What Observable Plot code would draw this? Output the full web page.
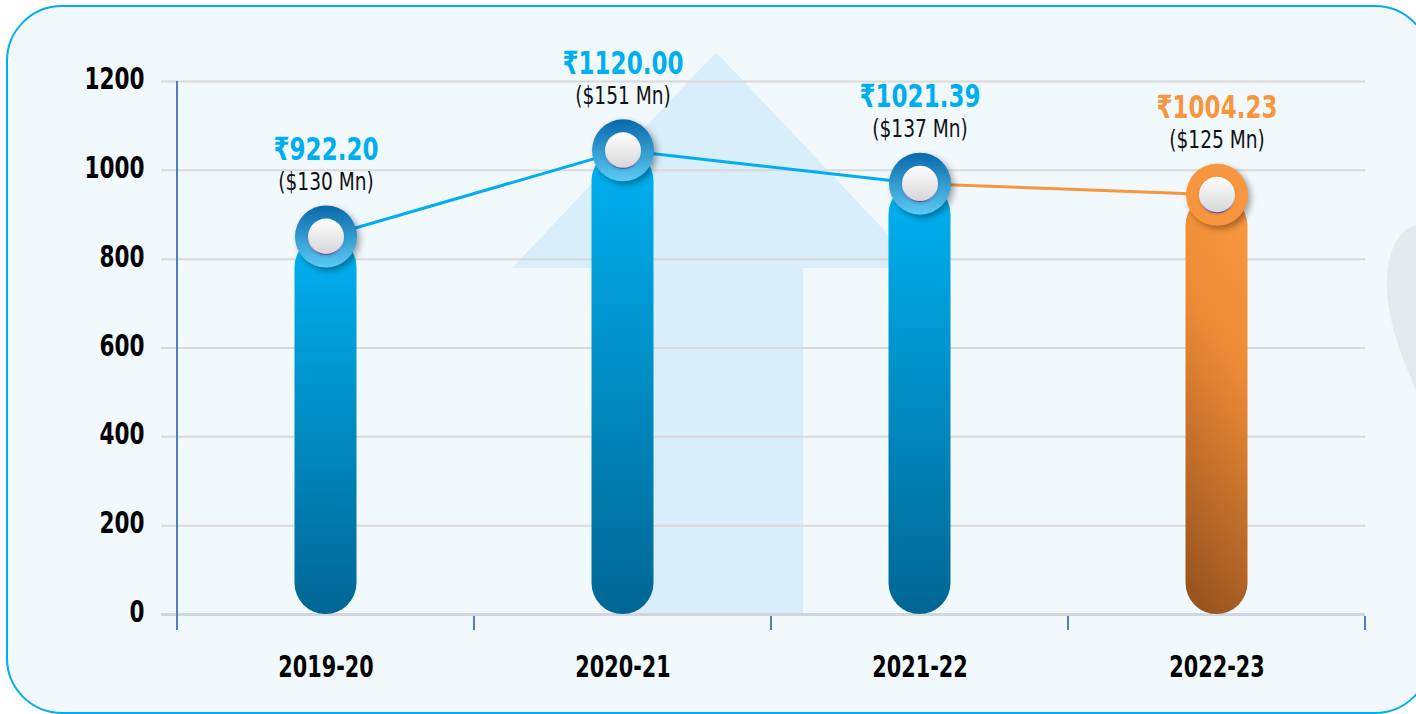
<!DOCTYPE html>
<html>
<head>
<meta charset="utf-8">
<script src="https://cdn.jsdelivr.net/npm/d3@7"></script>
<script src="https://cdn.jsdelivr.net/npm/@observablehq/plot@0.6"></script>
<style>
  html, body { margin: 0; padding: 0; background: #ffffff; }
  #chart svg { display: block; }
</style>
</head>
<body>
<div id="chart"></div>
<script>
// ---- data ----
const years = ["2019-20", "2020-21", "2021-22", "2022-23"];
const plotted = [851, 1045, 970, 945];            // bar/marker heights as drawn in the picture
const inrLabels = ["₹922.20", "₹1120.00", "₹1021.39", "₹1004.23"];
const usdLabels = ["($130 Mn)", "($151 Mn)", "($137 Mn)", "($125 Mn)"];
const highlight = [false, false, false, true];
const yTicks = [0, 200, 400, 600, 800, 1000, 1200];

const rows = years.map((year, i) => ({year, v: plotted[i], inr: inrLabels[i], usd: usdLabels[i], hl: highlight[i]}));
const blueRows = rows.filter(d => !d.hl);
const orangeRows = rows.filter(d => d.hl);

const BLUE = "#00aeef", ORANGE = "#f7963e";
const FONT = '"DejaVu Sans", sans-serif';

// background decoration: rounded panel, faint up-arrow, grey blob
function background(index, scales, values, dim) {
  const g = d3.create("svg:g");
  g.append("rect").attr("x", 7).attr("y", 6).attr("width", dim.width + 7).attr("height", dim.height - 7)
    .attr("rx", 55).attr("fill", "#f2f9fd").attr("stroke", BLUE).attr("stroke-width", 2);
  g.append("path").attr("d", `M${dim.width},225 C${dim.width-20},230 ${dim.width-31},258 ${dim.width-29},292 C${dim.width-26},330 ${dim.width-12},362 ${dim.width},390 Z`)
    .attr("fill", "#e4ebef");
  const x = scales.x, y = scales.y;
  const bw = x(years[1]) - x(years[0]);
  const cx = x(years[1]) + bw * 0.815;
  const apex = y(1265), base = y(779), bottom = y(0);
  const hw = bw * 0.687, sw = bw * 0.293;
  g.append("path")
    .attr("d", `M${cx},${apex} L${cx + hw},${base} L${cx + sw},${base} L${cx + sw},${bottom} L${cx - sw},${bottom} L${cx - sw},${base} L${cx - hw},${base} Z`)
    .attr("fill", "#d8eefa");
  return g.node();
}

// axis lines: vertical y-axis and x ticks at band boundaries
function axes(index, scales, values, dim) {
  const g = d3.create("svg:g");
  const x = scales.x, y = scales.y;
  const bw = x(years[1]) - x(years[0]);
  const x0 = x(years[0]);
  g.append("line").attr("x1", x0).attr("x2", x0).attr("y1", y(1200)).attr("y2", y(0) + 16)
    .attr("stroke", "#4f7fbf").attr("stroke-width", 2);
  for (let i = 1; i <= years.length; i++) {
    const xb = x0 + i * bw;
    g.append("line").attr("x1", xb).attr("x2", xb).attr("y1", y(0) + 2).attr("y2", y(0) + 16)
      .attr("stroke", "#4f7fbf").attr("stroke-width", 2);
  }
  return g.node();
}

const chart = Plot.plot({
  width: 1416,
  height: 714,
  marginLeft: 161,
  marginRight: 51,
  marginTop: 81,
  marginBottom: 100,
  style: {background: "transparent", fontFamily: FONT, overflow: "visible"},
  x: {type: "band", domain: years, padding: 0, insetLeft: 16, axis: null},
  y: {domain: [0, 1200], axis: null},
  marks: [
    background,
    Plot.ruleY(yTicks.filter(d => d > 0), {y: d => d, stroke: "#d9d9d9", strokeWidth: 2}),
    Plot.ruleY([0], {y: d => d, stroke: "#cfd6de", strokeWidth: 3}),
    axes,
    Plot.text(yTicks, {y: d => d, text: d => String(d), frameAnchor: "left", textAnchor: "end", dx: -17, dy: -2,
      fontSize: 30, fontWeight: "bold", fill: "#000", fontFamily: FONT}),
    Plot.text(years, {x: d => d, text: d => d, frameAnchor: "bottom", dy: 62,
      fontSize: 31, fontWeight: "bold", fill: "#000", fontFamily: FONT}),
    Plot.line(rows.slice(0, 3), {x: "year", y: "v", stroke: BLUE, strokeWidth: 3}),
    Plot.line(rows.slice(2), {x: "year", y: "v", stroke: ORANGE, strokeWidth: 3}),
    Plot.barY(blueRows, {x: "year", y: "v", fill: "url(#gBlue)", rx: 31, insetLeft: 117.5, insetRight: 117.5}),
    Plot.barY(orangeRows, {x: "year", y: "v", fill: "url(#gOrange)", rx: 31, insetLeft: 117.5, insetRight: 117.5}),
    Plot.dot(blueRows, {x: "year", y: "v", r: 31, fill: "url(#gRing)", stroke: "none"}),
    Plot.dot(orangeRows, {x: "year", y: "v", r: 31, fill: ORANGE, stroke: "none"}),
    Plot.dot(rows, {x: "year", y: "v", r: 18, fill: "url(#gKnob)", stroke: "url(#gKnobEdge)", strokeWidth: 1.2}),
    Plot.text(blueRows, {x: "year", y: "v", text: "inr", dy: -87, fontSize: 32, fontWeight: "bold", fill: BLUE, fontFamily: FONT}),
    Plot.text(orangeRows, {x: "year", y: "v", text: "inr", dy: -87, fontSize: 32, fontWeight: "bold", fill: ORANGE, fontFamily: FONT}),
    Plot.text(rows, {x: "year", y: "v", text: "usd", dy: -54, fontSize: 24, fill: "#111", fontFamily: FONT})
  ]
});

const defs = `
<defs>
  <linearGradient id="gBlue" x1="0" y1="0" x2="0" y2="1">
    <stop offset="0" stop-color="#00b2f2"/>
    <stop offset="1" stop-color="#006694"/>
  </linearGradient>
  <linearGradient id="gOrange" x1="0.6" y1="0" x2="0.4" y2="1">
    <stop offset="0" stop-color="#f8973f"/>
    <stop offset="0.35" stop-color="#ec8a36"/>
    <stop offset="1" stop-color="#9a551f"/>
  </linearGradient>
  <linearGradient id="gRing" x1="0" y1="0" x2="0" y2="1">
    <stop offset="0" stop-color="#0868ab"/>
    <stop offset="1" stop-color="#5ccbf4"/>
  </linearGradient>
  <linearGradient id="gKnob" x1="0" y1="0" x2="0" y2="1">
    <stop offset="0" stop-color="#ffffff"/>
    <stop offset="1" stop-color="#d6d6d8"/>
  </linearGradient>
  <linearGradient id="gKnobEdge" x1="0" y1="0" x2="0" y2="1">
    <stop offset="0.5" stop-color="#ffffff" stop-opacity="0"/>
    <stop offset="1" stop-color="#5b4fa6"/>
  </linearGradient>
</defs>`;
chart.insertAdjacentHTML("afterbegin", defs);
document.getElementById("chart").appendChild(chart);

// shadows under the marker rings
chart.querySelectorAll("circle").forEach(c => {
  const r = +c.getAttribute("r");
  if (r === 31) c.style.filter = "drop-shadow(3px 3px 3px rgba(0,0,0,0.35))";
  else if (r === 18) c.style.filter = "drop-shadow(0px 1px 1px rgba(0,0,0,0.15))";
});

// condense the text horizontally (the reference uses a condensed face)
const tickSet = new Set(yTicks.map(String)), yearSet = new Set(years);
chart.querySelectorAll("text").forEach(t => {
  const s = t.textContent;
  let k = null;
  if (tickSet.has(s)) k = 0.72;
  else if (yearSet.has(s)) k = 0.67;
  else if (s.startsWith("₹")) k = 0.72;
  else if (s.startsWith("(")) k = 0.775;
  if (k == null) return;
  const len = t.getComputedTextLength();
  if (len > 0) {
    t.setAttribute("textLength", (len * k).toFixed(1));
    t.setAttribute("lengthAdjust", "spacingAndGlyphs");
  }
});
</script>
</body>
</html>
